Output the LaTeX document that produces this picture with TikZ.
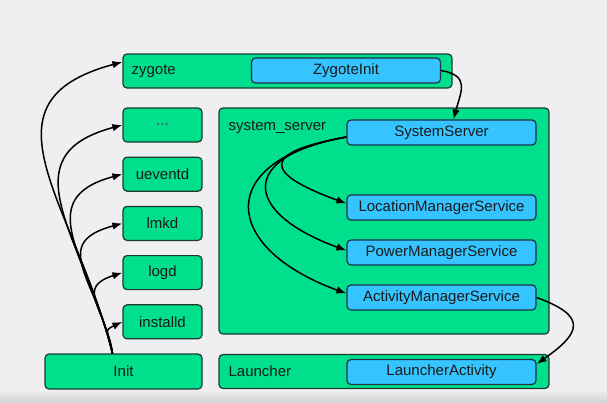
\documentclass[tikz,border=0pt]{standalone}
\usepackage{fontspec}
\setmainfont{Liberation Sans}
\usetikzlibrary{arrows.meta, positioning}
\definecolor{bgcolor}{HTML}{EFEFF1}
\definecolor{boxgreen}{HTML}{00E08C}
\definecolor{boxblue}{HTML}{35C4FF}
\definecolor{greenline}{HTML}{1E3A2E}
\definecolor{blueline}{HTML}{1E3148}
\definecolor{txt}{HTML}{1A1A1A}

\begin{document}
\begin{tikzpicture}[x=1pt, y=-1pt, node distance=14pt, font=\fontsize{15}{18}\selectfont, text=txt,
		proc/.style={draw=greenline, fill=boxgreen, line width=1.2pt, rounded corners=4pt, inner sep=0pt},
		small/.style={proc, minimum width=79pt, minimum height=34pt},
		cls/.style={draw=blueline, fill=boxblue, line width=1.2pt, rounded corners=4pt, inner sep=0pt, minimum width=189pt, minimum height=25pt},
		flow/.style={-{Latex[length=10pt,width=7.5pt]}, line width=1.5pt}]
		
		% Background
		\fill[bgcolor] (0,0) rectangle (607,402);
		\shade[top color=bgcolor, bottom color=black!17] (0,390) rectangle (607,402);
		\useasboundingbox (0,0) rectangle (607,402);
		
		% Processes
		\node[proc, minimum width=329pt, minimum height=34pt] (zygote) at (287.5,71) {};
		\node[anchor=west, inner sep=0pt] (zygotelbl) at ([xshift=9pt]zygote.west) {zygote};
		\node[cls] (ZygoteInit) at (346,70.5) {ZygoteInit};
		
		\node[small, text=txt!80] (dots) at (162.5,125) {...};
		\node[small, below=of dots] (ueventd) {ueventd};
		\node[small, below=of ueventd] (lmkd) {lmkd};
		\node[small, below=of lmkd] (logd) {logd};
		\node[small, below=of logd] (installd) {installd};
		
		\node[proc, minimum width=157pt, minimum height=35pt] (Init) at (123.5,371.5) {Init};
		
		\node[proc, minimum width=330pt, minimum height=226pt] (sysserver) at (384,221) {};
		\node[anchor=north west, inner sep=0pt] (sysserverlbl) at ([xshift=10pt,yshift=-13pt]sysserver.north west) {system\_server};
		\node[cls] (SystemServer) at (441.5,132.5) {SystemServer};
		\node[cls] (LMS) at (441.5,207.5) {LocationManagerService};
		\node[cls] (PMS) at (441.5,252.5) {PowerManagerService};
		\node[cls] (AMS) at (441.5,297.5) {ActivityManagerService};
		
		\node[proc, minimum width=330pt, minimum height=34pt] (Launcher) at (384,371.5) {};
		\node[anchor=west, inner sep=0pt] (launcherlbl) at ([xshift=10pt]Launcher.west) {Launcher};
		\node[cls] (LauncherActivity) at (441.5,372) {LauncherActivity};
		
		% Init starts everything
		\coordinate (initout) at ([xshift=-11pt]Init.north);
		\draw[flow] (initout) to[out=104, in=195, looseness=1.36] ([yshift=9pt]zygote.west);
		\draw[flow] (initout) to[out=104, in=195, looseness=1.35] (dots.west);
		\draw[flow] (initout) to[out=103, in=195, looseness=1.38] (ueventd.west);
		\draw[flow] (initout) to[out=102, in=195, looseness=1.5] (lmkd.west);
		\draw[flow] (initout) to[out=100, in=198, looseness=1.55] (logd.west);
		\draw[flow] (initout) to[out=97, in=205, looseness=1.75] (installd.west);
		
		% zygote forks system_server
		\draw[flow] (ZygoteInit.east) to[out=-10, in=75, looseness=1.5] ([xshift=12pt]SystemServer.north);
		
		% services
		\coordinate (ssout) at ([yshift=-4.5pt]SystemServer.west);
		\draw[flow] (ssout) to[out=190, in=160, looseness=3.4] ([yshift=4pt]LMS.west);
		\draw[flow] (ssout) to[out=190, in=160, looseness=2.5] ([yshift=2pt]PMS.west);
		\draw[flow] (ssout) to[out=190, in=160, looseness=2.2] ([yshift=4pt]AMS.west);
		
		% launcher
		\draw[flow] (AMS.east) to[out=-20, in=35, looseness=2.1] ([yshift=8pt]LauncherActivity.east);
		
\end{tikzpicture}
\end{document}
